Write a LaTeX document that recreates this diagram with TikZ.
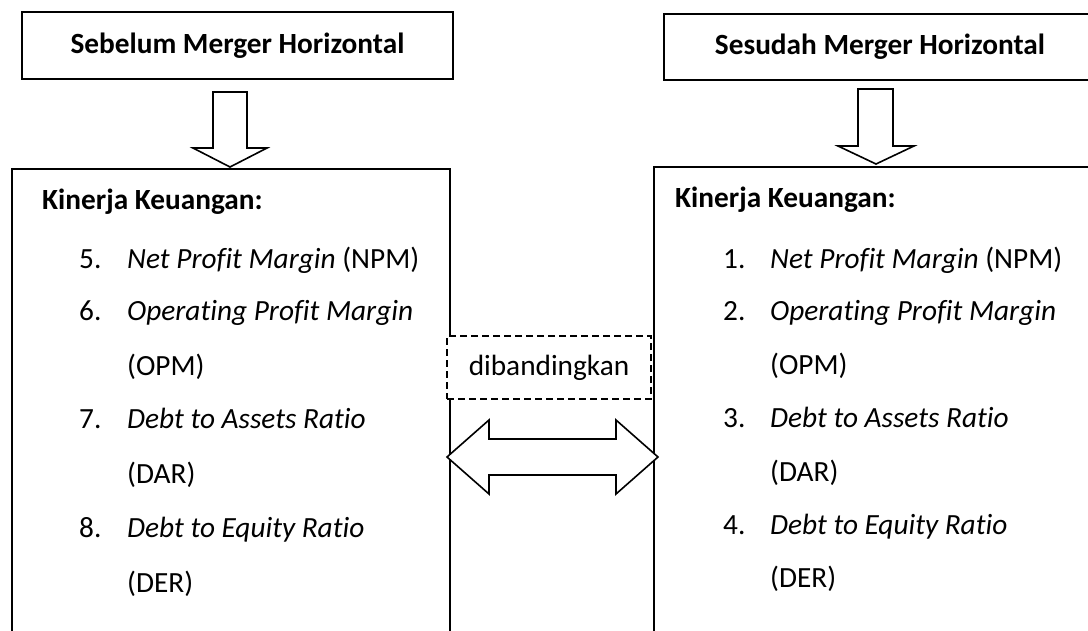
\documentclass[tikz,border=0pt]{standalone}
\usepackage{fontspec}
\setmainfont[Ligatures=NoCommon]{Carlito}
\tikzset{
  judul/.style={draw, line width=2pt, inner sep=0pt, font=\fontsize{29.3}{35}\selectfont\bfseries},
  kotak/.style={draw, line width=2pt, inner sep=0pt, anchor=north west},
  isi/.style={inner sep=0pt, anchor=base west, font=\fontsize{29.3}{35}\selectfont},
  kepala/.style={isi, font=\fontsize{29.3}{35}\selectfont\bfseries},
  panah/.style={draw, line width=1.6pt, fill=white, line join=miter},
  banding/.style={draw, dash pattern=on 7pt off 4pt, line width=2pt, fill=white,
    inner sep=0pt, font=\fontsize{29.3}{35}\selectfont}
}

\begin{document}
\begin{tikzpicture}[x=1pt, y=-1pt]
  \useasboundingbox (0,0) rectangle (1088,630);

  % kotak judul
  \node[judul, minimum width=431pt, minimum height=67pt] (sebelum) at (237.5,45.5) {Sebelum Merger Horizontal};
  \node[judul, minimum width=432pt, minimum height=66pt] (sesudah) at (880,46.5) {Sesudah Merger Horizontal};

  % kotak kinerja
  \node[kotak, minimum width=438pt, minimum height=500pt] (kiri) at (11,168) {};
  \node[kotak, minimum width=438pt, minimum height=500pt] (kanan) at (653,166) {};

  % panah ke bawah
  \draw[panah] (213,92) -- (247,92) -- (247,148) -- (267,148) -- (230,167)
    -- (193,148) -- (213,148) -- cycle;
  \draw[panah] (858,89) -- (893,89) -- (893,146) -- (914,146) -- (876,164)
    -- (838,146) -- (858,146) -- cycle;

  % isi kiri
  \node[kepala] (kA) at (42,209) {Kinerja Keuangan:};
  \node[isi] (nA5) at (79,268) {5.};
  \node[isi] (tA5) at (127,268) {\textit{Net Profit Margin} (NPM)};
  \node[isi] (nA6) at (79,320) {6.};
  \node[isi] (tA6) at (127,320) {\textit{Operating Profit Margin}};
  \node[isi] (sA6) at (127,375) {(OPM)};
  \node[isi] (nA7) at (79,428) {7.};
  \node[isi] (tA7) at (127,428) {\textit{Debt to Assets Ratio}};
  \node[isi] (sA7) at (127,483) {(DAR)};
  \node[isi] (nA8) at (79,537) {8.};
  \node[isi] (tA8) at (127,537) {\textit{Debt to Equity Ratio}};
  \node[isi] (sA8) at (127,592) {(DER)};

  % isi kanan
  \node[kepala] (kB) at (675,207) {Kinerja Keuangan:};
  \node[isi] (nB1) at (723,268) {1.};
  \node[isi] (tB1) at (770,268) {\textit{Net Profit Margin} (NPM)};
  \node[isi] (nB2) at (723,320) {2.};
  \node[isi] (tB2) at (770,320) {\textit{Operating Profit Margin}};
  \node[isi] (sB2) at (770,374) {(OPM)};
  \node[isi] (nB3) at (723,427) {3.};
  \node[isi] (tB3) at (770,427) {\textit{Debt to Assets Ratio}};
  \node[isi] (sB3) at (770,481) {(DAR)};
  \node[isi] (nB4) at (723,534) {4.};
  \node[isi] (tB4) at (770,534) {\textit{Debt to Equity Ratio}};
  \node[isi] (sB4) at (770,587) {(DER)};

  % perbandingan
  \node[banding, minimum width=204pt, minimum height=63pt] (banding) at (549,367.5) {dibandingkan};
  \draw[panah] (447,457) -- (489,420) -- (489,439) -- (616,439) -- (616,420)
    -- (658,457) -- (616,494) -- (616,475) -- (489,475) -- (489,494) -- cycle;
\end{tikzpicture}
\end{document}
